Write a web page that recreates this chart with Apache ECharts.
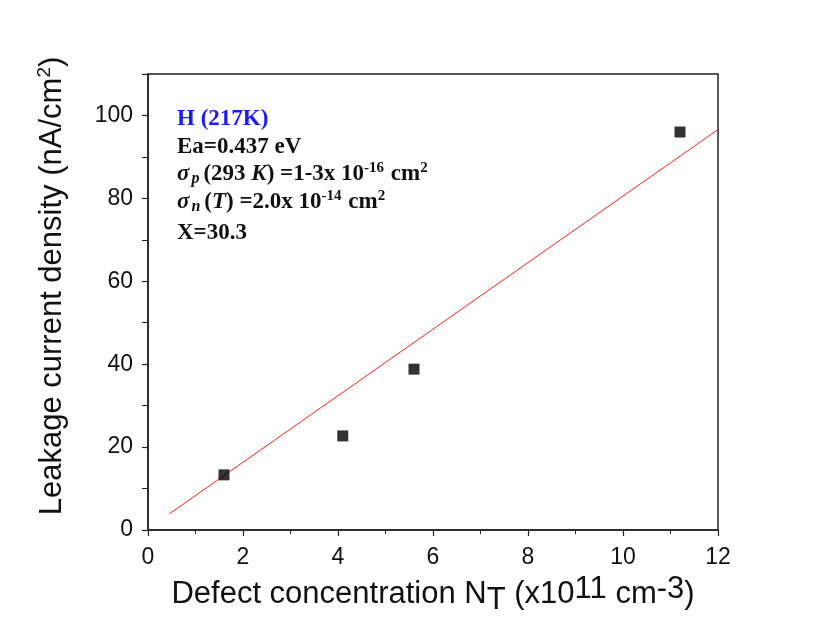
<!DOCTYPE html>
<html><head><meta charset="utf-8">
<script src="https://cdn.jsdelivr.net/npm/echarts@6/dist/echarts.min.js"></script>
<style>html,body{margin:0;padding:0;background:#fff}#c{width:833px;height:634px}</style>
</head><body><div id="c"></div>
<script>
var xTicks = [0, 2, 4, 6, 8, 10, 12];
var yTicks = [0, 20, 40, 60, 80, 100];
var defectConc = [1.6, 4.1, 5.6, 11.2];
var leakage = [13.3, 22.7, 38.8, 96.0];
var modelX = [0.45, 12];
var modelY = [3.9, 96.6];

var chart = echarts.init(document.getElementById('c'));
var serif = '"Liberation Serif","Times New Roman",serif';
var sans = '"Liberation Sans",Arial,sans-serif';
var FS = 23;
var annRich = {
  b: {fontFamily: serif, fontWeight: 'bold', fontSize: FS, fill: '#111'},
  bi: {fontFamily: serif, fontWeight: 'bold', fontStyle: 'italic', fontSize: FS, fill: '#111'},
  sub: {fontFamily: serif, fontWeight: 'bold', fontStyle: 'italic', fontSize: 16, fill: '#111', verticalAlign: 'bottom', padding: [10, 4, 0, 2]},
  sup: {fontFamily: serif, fontWeight: 'bold', fontSize: 15, fill: '#111', verticalAlign: 'top', padding: [0, 1, 9, 0]},
  h: {fontFamily: serif, fontWeight: 'bold', fontSize: FS, fill: '#1a1aff'}
};
function ann(y, text) {
  return {type: 'text', x: 177, y: y, style: {text: text, rich: annRich, verticalAlign: 'middle', align: 'left', fill: '#111'}};
}
var TF = 31;
var titleRich = {
  t: {fontFamily: sans, fontSize: TF, color: '#111'},
  sub: {fontFamily: sans, fontSize: TF, color: '#111', padding: [8, 0, 0, 0], verticalAlign: 'bottom'},
  sup: {fontFamily: sans, fontSize: TF, color: '#111', padding: [0, 0, 11, 0], verticalAlign: 'top'}
};
chart.setOption({
  animation: false,
  grid: {left: 148, top: 74, right: 115, bottom: 104, show: true, borderColor: '#222', borderWidth: 1.5, backgroundColor: 'transparent'},
  xAxis: {
    type: 'value', min: xTicks[0], max: xTicks[xTicks.length - 1], interval: 2,
    axisLine: {show: true, lineStyle: {color: '#222', width: 1.5}},
    axisTick: {show: true, inside: false, length: 6, lineStyle: {color: '#222', width: 1.2}},
    minorTick: {show: true, splitNumber: 2, length: 4, lineStyle: {color: '#222', width: 1}},
    splitLine: {show: false},
    axisLabel: {fontFamily: sans, fontSize: 23, color: '#111', margin: 16},
    name: '{t|Defect concentration N}{sub|T}{t| (x10}{sup|11}{t| cm}{sup|-3}{t|)}',
    nameLocation: 'middle', nameGap: 39,
    nameTextStyle: {fontFamily: sans, fontSize: TF, color: '#111', rich: titleRich}
  },
  yAxis: {
    type: 'value', min: 0, max: 110, interval: 20,
    axisLine: {show: true, lineStyle: {color: '#222', width: 1.5}},
    axisTick: {show: true, inside: false, length: 6, lineStyle: {color: '#222', width: 1.2}},
    minorTick: {show: true, splitNumber: 2, length: 6, lineStyle: {color: '#222', width: 1}},
    splitLine: {show: false},
    axisLabel: {fontFamily: sans, fontSize: 23, color: '#111', margin: 15,
      formatter: function (v) { return yTicks.indexOf(v) >= 0 ? String(v) : ''; }},
    name: '{t|Leakage current density (nA/cm}{sup|2}{t|)}',
    nameLocation: 'middle', nameGap: 79, nameRotate: 90,
    nameTextStyle: {fontFamily: sans, fontSize: TF, color: '#111', padding: [0, 0, 0, 32],
      rich: {
        t: {fontFamily: sans, fontSize: TF, color: '#111'},
        sup: {fontFamily: sans, fontSize: 19, color: '#111', padding: [0, 0, 15, 0], verticalAlign: 'top'}
      }}
  },
  series: [
    {type: 'scatter', symbol: 'rect', symbolSize: 11, itemStyle: {color: '#000'},
      data: defectConc.map(function (x, i) { return [x, leakage[i]]; }), z: 3},
    {type: 'line', symbol: 'none', lineStyle: {color: '#ff2020', width: 1},
      data: modelX.map(function (x, i) { return [x, modelY[i]]; }), z: 2}
  ],
  graphic: [
    ann(119, '{h|H (217K)}'),
    ann(147, '{b|Ea=0.437 eV}'),
    ann(174, '{bi|σ}{sub|p}{b|(293 }{bi|K}{b|) =1-3x 10}{sup|-16}{b| cm}{sup|2}'),
    ann(202, '{bi|σ}{sub|n}{b|(}{bi|T}{b|) =2.0x 10}{sup|-14}{b| cm}{sup|2}'),
    ann(233, '{b|X=30.3}')
  ]
});
</script></body></html>
